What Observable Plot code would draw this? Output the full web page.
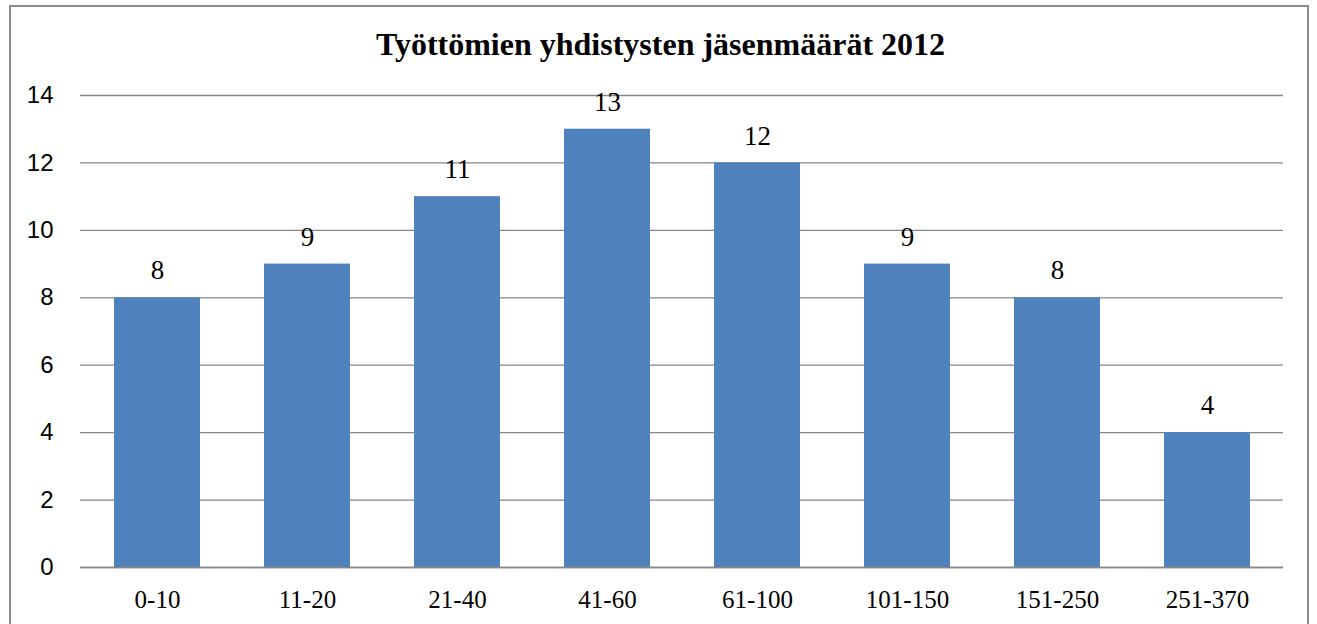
<!DOCTYPE html>
<html>
<head>
<meta charset="utf-8">
<script src="https://cdn.jsdelivr.net/npm/d3@7"></script>
<script src="https://cdn.jsdelivr.net/npm/@observablehq/plot@0.6"></script>
<style>
  html, body { margin: 0; padding: 0; background: #fff; }
  #wrap { position: relative; width: 1317px; height: 624px; overflow: hidden; }
  #frame { position: absolute; left: 9px; top: 5px; width: 1300px; height: 640px; border: 2px solid #8c8c8c; box-sizing: border-box; }
  #title { position: absolute; left: 0; width: 1321px; top: 28px; line-height: 1; text-align: center; font-family: "Liberation Serif", "DejaVu Serif", serif; font-weight: bold; font-size: 32px; color: #000; white-space: nowrap; }
  #chart { position: absolute; left: 0; top: 0; }
</style>
</head>
<body>
<div id="wrap">
  <div id="frame"></div>
  <div id="title">Työttömien yhdistysten jäsenmäärät 2012</div>
  <div id="chart"></div>
</div>
<script>
const categories = ["0-10", "11-20", "21-40", "41-60", "61-100", "101-150", "151-250", "251-370"];
const counts = [8, 9, 11, 13, 12, 9, 8, 4];
const yTicks = [0, 2, 4, 6, 8, 10, 12, 14];

const data = categories.map((c, i) => ({ category: c, count: counts[i] }));

const serif = "'Liberation Serif', 'DejaVu Serif', serif";
const sans = "'Liberation Sans', Arial, sans-serif";

const plot = Plot.plot({
  width: 1317,
  height: 624,
  marginTop: 95,
  marginBottom: 57,
  marginLeft: 80,
  marginRight: 34,
  style: { background: "transparent", overflow: "visible" },
  x: { domain: categories, paddingInner: 0.43, paddingOuter: 0.215, label: null },
  y: { domain: [0, 14], label: null },
  marks: [
    Plot.ruleY(yTicks, { stroke: "#868686", strokeWidth: 1.3 }),
    Plot.barY(data, { x: "category", y: "count", fill: "#4f81bd" }),
    Plot.ruleY([0], { stroke: "#868686", strokeWidth: 1.3 }),
    Plot.text(data, { x: "category", y: "count", text: d => String(d.count), dy: -27, fontSize: 27, fill: "#000", fontFamily: serif, ariaLabel: "bar-value" }),
    Plot.axisY({ ticks: yTicks, tickSize: 0, tickPadding: 27, fontSize: 24, fontFamily: sans, tickFormat: d => String(d), label: null, color: "#000" }),
    Plot.axisX({ tickSize: 0, tickPadding: 23, fontSize: 25, fontFamily: serif, label: null, color: "#000" })
  ]
});
const sv = d3.select(plot);
sv.selectAll('g[aria-label="y-axis tick label"]').style("font-family", sans).style("font-size", "24px");
sv.selectAll('g[aria-label="x-axis tick label"]').style("font-family", serif).style("font-size", "25px");
sv.selectAll('g[aria-label="bar-value"]').style("font-family", serif).style("font-size", "27px");
document.getElementById("chart").appendChild(plot);
</script>
</body>
</html>
